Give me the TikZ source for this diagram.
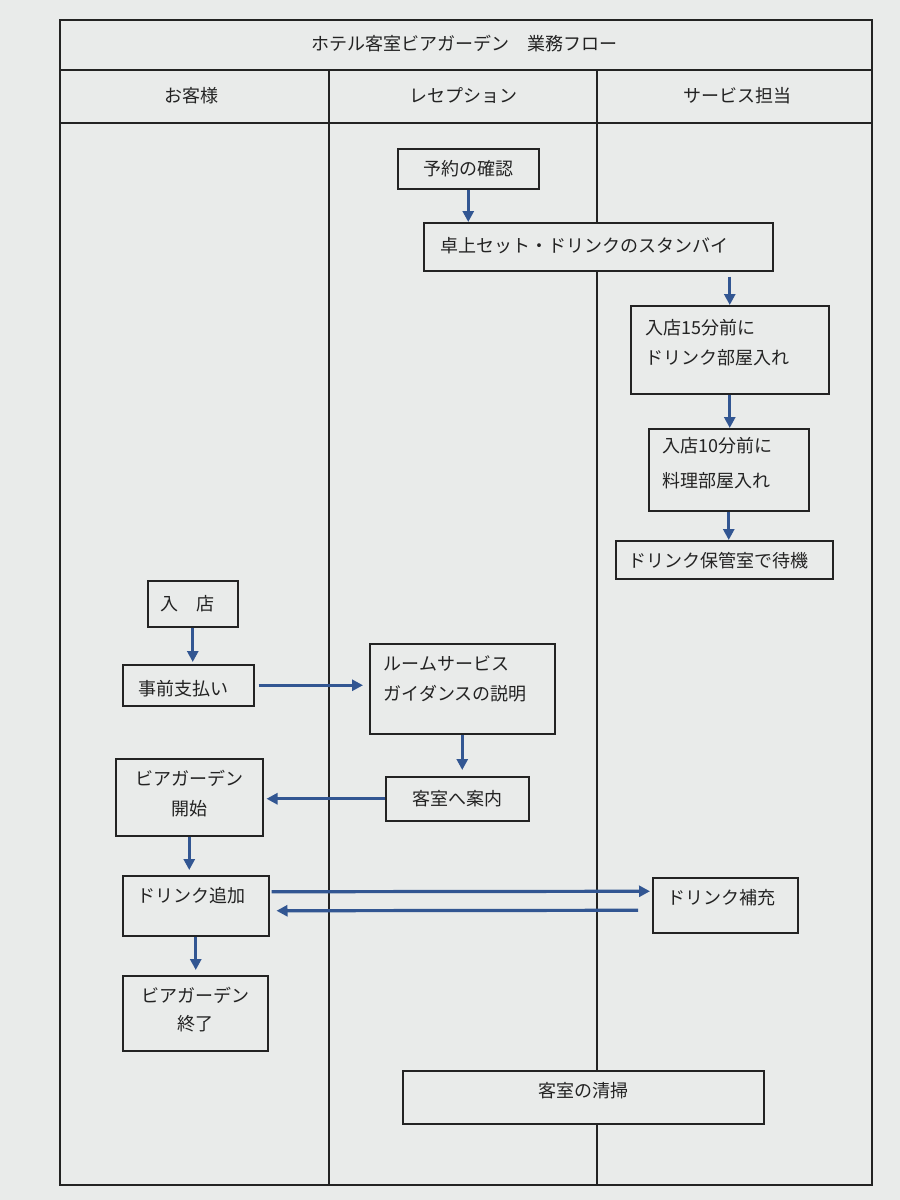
\documentclass[tikz,border=0pt]{standalone}
\usepackage{fontspec}
\setmainfont{Noto Sans CJK JP}
\usetikzlibrary{arrows.meta}
\definecolor{paper}{RGB}{233,235,234}
\definecolor{ink}{RGB}{35,35,35}
\definecolor{flowblue}{RGB}{50,86,146}

\begin{document}
\begin{tikzpicture}[x=1pt, y=-1pt,
    every node/.style={font=\fontsize{18}{30}\selectfont, text=ink},
    box/.style={draw=ink, line width=1.5pt, fill=paper, inner ysep=0pt, anchor=north west},
    flow/.style={draw=flowblue, line width=3.2pt, -{Triangle[length=11pt,width=11pt]}}]
    \fill[paper] (0,0) rectangle (900,1200);
    \useasboundingbox (0,0) rectangle (900,1200);
    % swimlane frame
    \draw[ink, line width=1.4pt] (60,20) rectangle (872,1185);
    \draw[ink, line width=1.4pt] (60,70) -- (872,70);
    \draw[ink, line width=1.4pt] (60,123) -- (872,123);
    \draw[ink, line width=1.4pt] (329,70) -- (329,1185);
    \draw[ink, line width=1.4pt] (597,70) -- (597,1185);
    \node (title) at (464,44) {ホテル客室ビアガーデン　業務フロー};
    \node (guest) at (191,96) {お客様};
    \node (recep) at (463,96) {レセプション};
    \node (staff) at (737,96) {サービス担当};

    % boxes
    \node[box, text width=121pt, inner xsep=10pt, text height=27pt, text depth=13pt, align=center] (yoyaku) at (397,148) {予約の確認};
    \node[box, text width=315pt, inner xsep=17pt, text height=30pt, text depth=18pt, align=left] (takujo) at (423,222) {卓上セット・ドリンクのスタンバイ};
    \node[box, text width=168pt, inner xsep=15pt, text height=29pt, text depth=59pt, align=left] (mae15) at (630,305) {入店15分前に\\ドリンク部屋入れ};
    \node[box, text width=132pt, inner xsep=14pt, text height=24pt, text depth=58pt, align=left] (mae10) at (648,428) {入店10分前に\\[5pt]料理部屋入れ};
    \node[box, text width=191pt, inner xsep=13pt, text height=27pt, text depth=11pt, align=left] (taiki) at (615,540) {ドリンク保管室で待機};
    \node[box, text width=64pt, inner xsep=13pt, text height=30pt, text depth=16pt, align=left] (nyuten) at (147,580) {入　店};
    \node[box, text width=99pt, inner xsep=16pt, text height=31pt, text depth=10pt, align=left] (jizen) at (122,664) {事前支払い};
    \node[box, text width=157pt, inner xsep=14pt, text height=27pt, text depth=63pt, align=left] (guide) at (369,643) {ルームサービス\\ガイダンスの説明};
    \node[box, text width=123pt, inner xsep=10pt, text height=29pt, text depth=15pt, align=center] (annai) at (385,776) {客室へ案内};
    \node[box, text width=127pt, inner xsep=10pt, text height=27pt, text depth=50pt, align=center] (kaishi) at (115,758) {ビアガーデン\\開始};
    \node[box, text width=116pt, inner xsep=15pt, text height=27pt, text depth=33pt, align=left] (tsuika) at (122,875) {ドリンク追加};
    \node[box, text width=125pt, inner xsep=10pt, text height=27pt, text depth=48pt, align=center] (shuryo) at (122,975) {ビアガーデン\\[-2pt]終了};
    \node[box, text width=115pt, inner xsep=15pt, text height=27pt, text depth=28pt, align=left] (hoju) at (652,877) {ドリンク補充};
    \node[box, text width=341pt, inner xsep=10pt, text height=27pt, text depth=26pt, align=center] (seiso) at (402,1070) {客室の清掃};

    % connectors
    \draw[flow] (yoyaku.south) -- (yoyaku.south |- takujo.north);
    \draw[flow, shorten <=5pt] (mae15.north |- takujo.south) -- (mae15.north);
    \draw[flow] (mae15.south) -- (mae15.south |- mae10.north);
    \draw[flow] (mae10.south) -- (mae10.south |- taiki.north);
    \draw[flow, shorten >=2pt] (nyuten.south) -- (nyuten.south |- jizen.north);
    \draw[flow, shorten <=4pt, shorten >=6pt] (jizen.east) -- (jizen.east -| guide.west);
    \draw[flow, shorten >=6pt] (guide.south) -- (guide.south |- annai.north);
    \draw[flow, shorten >=3pt] (annai.west) -- (annai.west -| kaishi.east);
    \draw[flow, shorten >=5pt] (kaishi.south) -- (kaishi.south |- tsuika.north);
    \draw[flow, shorten <=2pt, shorten >=2pt] ([yshift=14pt]tsuika.east) -- ([yshift=14pt]hoju.west);
    \draw[flow, shorten <=14pt, shorten >=7pt] ([yshift=-5pt]hoju.west) -- ([yshift=-5pt]tsuika.east);
    \draw[flow, shorten >=5pt] (tsuika.south) -- (tsuika.south |- shuryo.north);
\end{tikzpicture}
\end{document}
